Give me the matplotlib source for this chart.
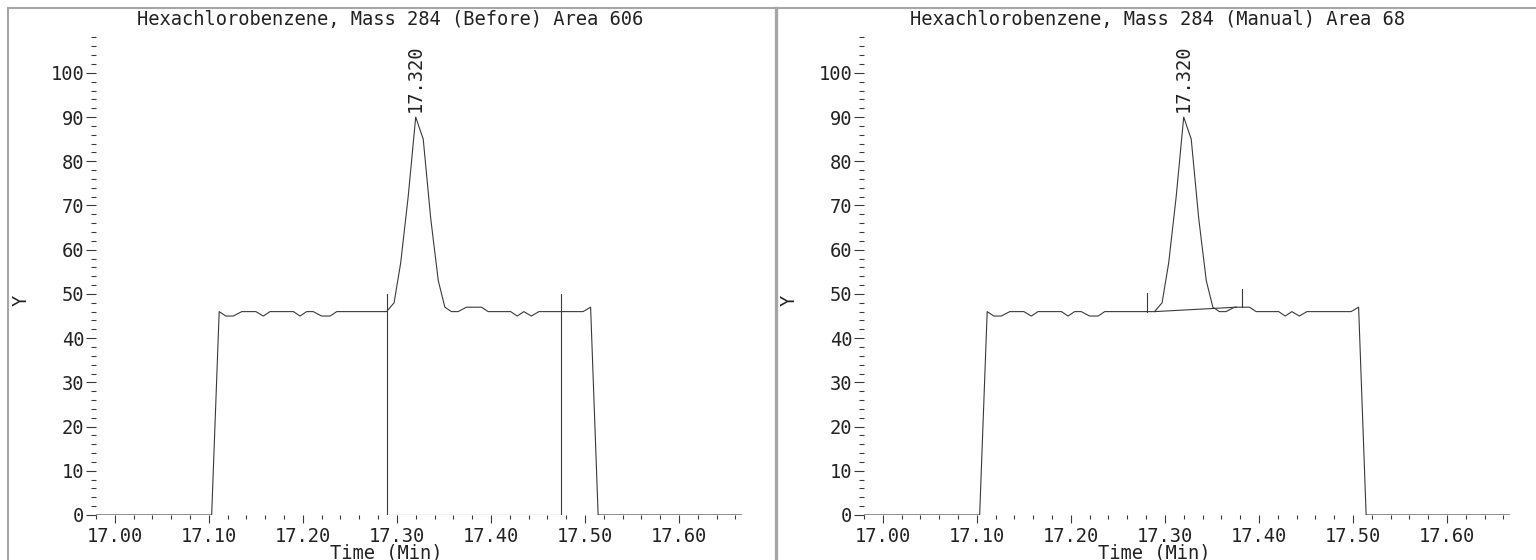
"""Two chromatogram panels: Hexachlorobenzene mass 284, before and after manual integration."""
import matplotlib
matplotlib.use("Agg")
import matplotlib.pyplot as plt
from matplotlib.ticker import MultipleLocator, FormatStrFormatter
from matplotlib.lines import Line2D

# signal trace (time in min, abundance)
time = [16.98, 17.103, 17.111, 17.118, 17.126, 17.135, 17.150, 17.158, 17.165,
        17.190, 17.197, 17.204, 17.211, 17.220, 17.229, 17.236, 17.289, 17.297,
        17.304, 17.312, 17.320, 17.328, 17.336, 17.344, 17.351, 17.358, 17.365,
        17.374, 17.390, 17.397, 17.421, 17.428, 17.435, 17.443, 17.451, 17.498,
        17.506, 17.514, 17.667]
signal = [0, 0, 46, 45, 45, 46, 46, 45, 46,
          46, 45, 46, 46, 45, 45, 46, 46, 48,
          57, 72, 90, 85, 67, 53, 47, 46, 46,
          47, 47, 46, 46, 45, 46, 45, 46, 46,
          47, 0, 0]

peak_rt = 17.320
peak_height = 90

titles = ["Hexachlorobenzene, Mass 284 (Before) Area 606",
          "Hexachlorobenzene, Mass 284 (Manual) Area 68"]

# integration markers
before_start, before_end = 17.289, 17.475
before_base = [0, 0]
manual_start, manual_end = 17.289, 17.376
manual_base = [46, 47]
manual_ticks_t = [17.281, 17.382]
manual_ticks_y = [46, 47]

W, H = 1536, 560
FONT = "DejaVu Sans Mono"
FS = 13.5
LINE = "#3a3a3a"
FRAME = "#a6a6a6"

plt.rcParams["font.family"] = FONT
fig = plt.figure(figsize=(W / 100, H / 100), dpi=100)


def px(x, y):
    return x / W, 1 - y / H


axes = []
for k in range(2):
    off = 768 * k
    ax_left, ax_right = 96 + off, 742 + off
    ax_top, ax_bot = 36.6, 515
    ax = fig.add_axes([ax_left / W, 1 - ax_bot / H, (ax_right - ax_left) / W, (ax_bot - ax_top) / H])
    ax.plot(time, signal, color=LINE, lw=0.8)
    ax.set_xlim(16.98, 17.667)
    ax.set_ylim(0, 108.2)
    for s in ax.spines.values():
        s.set_visible(False)
    ax.xaxis.set_major_locator(MultipleLocator(0.1))
    ax.xaxis.set_minor_locator(MultipleLocator(0.02))
    ax.xaxis.set_major_formatter(FormatStrFormatter("%.2f"))
    ax.yaxis.set_major_locator(MultipleLocator(10))
    ax.yaxis.set_minor_locator(MultipleLocator(2))
    ax.yaxis.set_major_formatter(FormatStrFormatter("%d"))
    ax.tick_params(axis="x", which="major", length=6, width=0.8, pad=2.5,
                   labelsize=FS, color=LINE, labelcolor="#222222")
    ax.tick_params(axis="x", which="minor", length=3, width=0.8, color=LINE)
    ax.tick_params(axis="y", which="major", length=7.5, width=0.8, pad=1,
                   labelsize=FS, color=LINE, labelcolor="#222222")
    ax.tick_params(axis="y", which="minor", length=3.6, width=0.8, color=LINE)
    ax.text(peak_rt, peak_height + 1.2, f"{peak_rt:.3f}", rotation=90, ha="center",
            va="bottom", fontsize=FS, color="#222222")
    fig.text(*px(390 + off, 20), titles[k], ha="center", va="center", fontsize=FS, color="#222222")
    fig.text(*px(386 + off, 553), "Time (Min)", ha="center", va="center", fontsize=FS, color="#222222")
    fig.text(*px(21 + off, 300), "Y", ha="center", va="center", rotation=90, fontsize=FS, color="#222222")
    axes.append(ax)

# before: vertical drop lines with baseline at zero
ax = axes[0]
ax.plot([before_start, before_start], [before_base[0], 50], color=LINE, lw=0.8)
ax.plot([before_end, before_end], [before_base[1], 50], color=LINE, lw=0.8)
ax.plot([before_start, before_end], before_base, color=LINE, lw=0.8)

# manual: short tick marks and a sloped baseline under the peak
ax = axes[1]
ax.plot([manual_start, manual_end], manual_base, color=LINE, lw=0.8)
for t, y in zip(manual_ticks_t, manual_ticks_y):
    ax.plot([t, t], [y, y + 4.2], color=LINE, lw=0.8)

# panel frames
fig.add_artist(Line2D([8 / W, 1], [1 - 8 / H] * 2, color=FRAME, lw=1.5, transform=fig.transFigure))
fig.add_artist(Line2D([8 / W] * 2, [0, 1 - 8 / H], color=FRAME, lw=1.5, transform=fig.transFigure))
fig.add_artist(Line2D([775.5 / W] * 2, [0, 1 - 8 / H], color=FRAME, lw=2.4, transform=fig.transFigure))

fig.savefig("out.png", dpi=100)
